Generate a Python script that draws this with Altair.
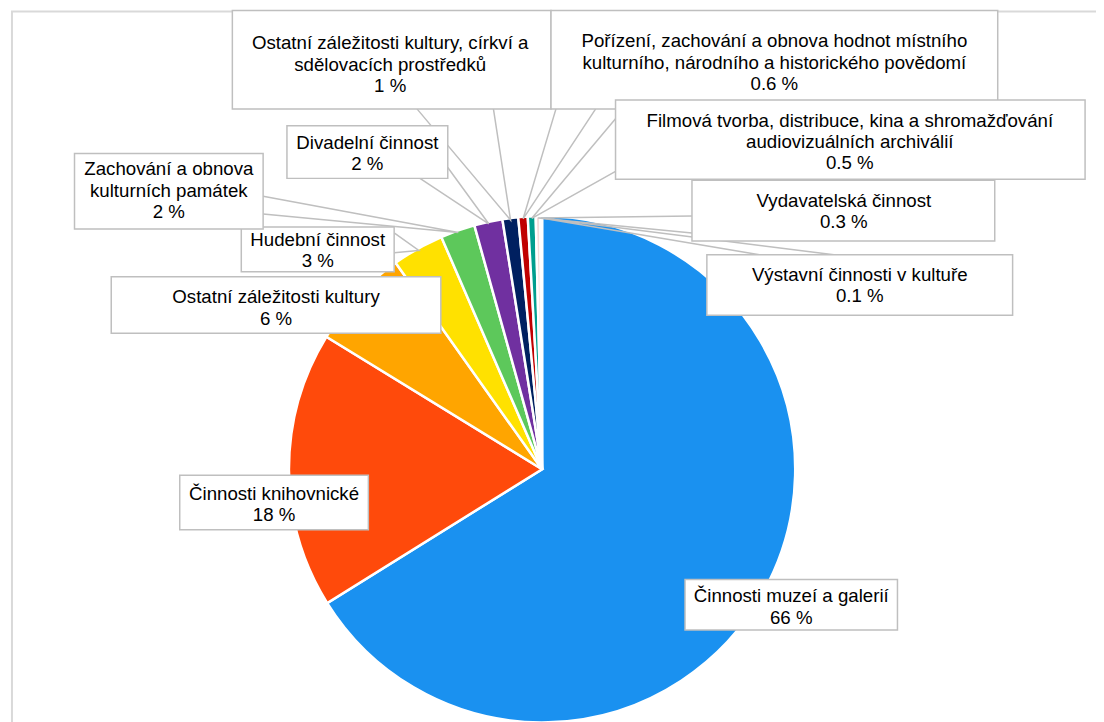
import math
import altair as alt
import pandas as pd

# ---------------- data ----------------
categories = [
    "Činnosti muzeí a galerií",
    "Činnosti knihovnické",
    "Ostatní záležitosti kultury",
    "Hudební činnost",
    "Zachování a obnova kulturních památek",
    "Divadelní činnost",
    "Ostatní záležitosti kultury, církví a sdělovacích prostředků",
    "Pořízení, zachování a obnova hodnot místního kulturního, národního a historického povědomí",
    "Filmová tvorba, distribuce, kina a shromažďování audiovizuálních archiválií",
    "Vydavatelská činnost",
    "Výstavní činnosti v kultuře",
]
values = [66.0, 17.6, 6.4, 3.3, 2.2, 1.8, 1.0, 0.6, 0.5, 0.3, 0.1]
pct_labels = ["66 %", "18 %", "6 %", "3 %", "2 %", "2 %", "1 %", "0.6 %", "0.5 %", "0.3 %", "0.1 %"]
label_lines = [
    "Činnosti muzeí a galerií",
    "Činnosti knihovnické",
    "Ostatní záležitosti kultury",
    "Hudební činnost",
    "Zachování a obnova\nkulturních památek",
    "Divadelní činnost",
    "Ostatní záležitosti kultury, církví a\nsdělovacích prostředků",
    "Pořízení, zachování a obnova hodnot místního\nkulturního, národního a historického povědomí",
    "Filmová tvorba, distribuce, kina a shromažďování\naudiovizuálních archiválií",
    "Vydavatelská činnost",
    "Výstavní činnosti v kultuře",
]
colors = ["#1A91F0", "#FF4A0B", "#FFA500", "#FFE100", "#5DC85B", "#7030A0",
          "#002060", "#C00000", "#009E8E", "#F2DCDB", "#DAEEF3"]

# ---------------- layout (page pixel coords) ----------------
OFF = 8
CX, CY, R = 546, 470, 255
boxes = [
    (690, 581, 904, 632),
    (181, 476, 371, 531),
    (112, 276, 444, 333),
    (243, 226, 397, 271),
    (75, 152, 265, 228),
    (289, 124, 451, 177),
    (234, 8, 555, 107),
    (555, 8, 1005, 107),
    (620, 98, 1093, 178),
    (697, 179, 1002, 240),
    (712, 254, 1020, 315),
]
# x centre and y of the first text line
text_pos = [
    (797, 598), (276, 495), (278, 297), (320, 239), (170, 168), (370, 141),
    (393, 41), (780, 39), (856, 119), (850, 200), (866, 274),
]
wedge_bases = [
    None, None, None,
    ((397, 232), (397, 252)),
    ((265, 195), (265, 213)),
    ((423, 177), (451, 166)),
    ((420, 107), (497, 107)),
    ((560, 107), (600, 107)),
    ((620, 117), (620, 170)),
    ((697, 215), (697, 232)),
    ((765, 254), (840, 254)),
]

total = sum(values)
pie_df = pd.DataFrame({"cat": categories, "value": values, "idx": list(range(len(values)))})

box_df = pd.DataFrame({
    "x": [b[0] - OFF for b in boxes], "y": [b[1] - OFF for b in boxes],
    "x2": [b[2] - OFF for b in boxes], "y2": [b[3] - OFF for b in boxes],
})
text_df = pd.DataFrame({
    "x": [p[0] - OFF for p in text_pos], "y": [p[1] - OFF for p in text_pos],
    "label": [n + "\n" + p for n, p in zip(label_lines, pct_labels)],
})

rows = []
cum = 0.0
for i, v in enumerate(values):
    mid = (cum + v / 2) / total * 2 * math.pi
    cum += v
    wb = wedge_bases[i]
    if wb is None:
        continue
    tx = CX + (R - 2) * math.sin(mid)
    ty = CY - (R - 2) * math.cos(mid)
    pts = [wb[0], (tx, ty), wb[1]]
    for o, (px, py) in enumerate(pts):
        rows.append({"g": i, "o": o, "x": px - OFF, "y": py - OFF})
line_df = pd.DataFrame(rows)

border_df = pd.DataFrame({"x": [12 - OFF], "y": [1], "x2": [1200], "y2": [1200]})

FONT = "Liberation Sans"

border = alt.Chart(border_df).mark_rect(fill=None, stroke="#d9d9d9", strokeWidth=2).encode(
    x=alt.X("x:Q", scale=None, axis=None), y=alt.Y("y:Q", scale=None, axis=None),
    x2="x2:Q", y2="y2:Q")

pie = alt.Chart(pie_df).mark_arc(outerRadius=R, stroke="white", strokeWidth=2.5).encode(
    theta=alt.Theta("value:Q", stack=True),
    color=alt.Color("cat:N", scale=alt.Scale(domain=categories, range=colors), legend=None),
    order=alt.Order("idx:Q"),
    x=alt.value(CX - OFF), y=alt.value(CY - OFF),
)

lines = alt.Chart(line_df).mark_line(color="#bfbfbf", strokeWidth=1.5).encode(
    x=alt.X("x:Q", scale=None, axis=None), y=alt.Y("y:Q", scale=None, axis=None),
    detail="g:N", order="o:Q")

rects = alt.Chart(box_df).mark_rect(fill="white", stroke="#bfbfbf", strokeWidth=1.5).encode(
    x=alt.X("x:Q", scale=None, axis=None), y=alt.Y("y:Q", scale=None, axis=None),
    x2="x2:Q", y2="y2:Q")

texts = alt.Chart(text_df).mark_text(
    font=FONT, fontSize=18.8, color="#000000", lineBreak="\n", lineHeight=21.5,
    align="center", baseline="middle").encode(
    x=alt.X("x:Q", scale=None, axis=None), y=alt.Y("y:Q", scale=None, axis=None),
    text="label:N")

chart = alt.layer(border, pie, lines, rects, texts).properties(
    width=1096, height=714, autosize=alt.AutoSizeParams(type="none"), padding=0,
    background="white",
).configure_view(stroke=None)

chart.save("out.html", embed_options={"renderer": "svg", "actions": False})
